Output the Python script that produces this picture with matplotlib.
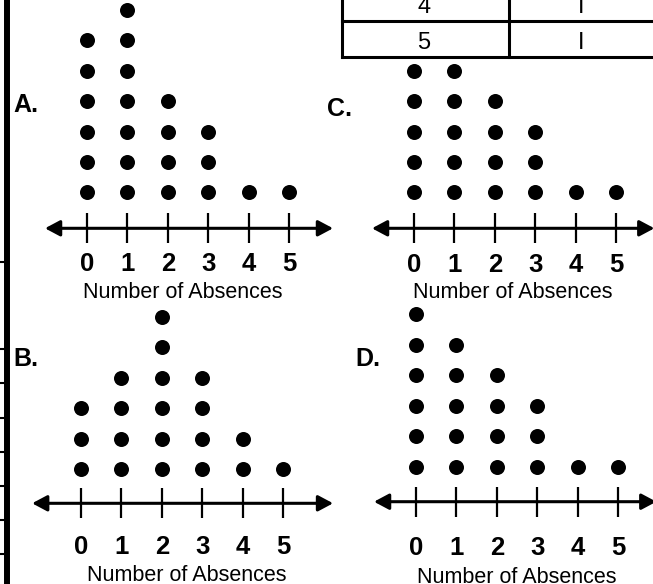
import matplotlib
matplotlib.use('Agg')
import matplotlib.pyplot as plt

plt.rcParams['font.family'] = ['Liberation Sans', 'DejaVu Sans']

W, H, DPI = 653, 584, 100

# ---- data ----
absences = [0, 1, 2, 3, 4, 5]
tick_labels = ['0', '1', '2', '3', '4', '5']
counts_A = [6, 7, 4, 3, 1, 1]
counts_B = [3, 4, 6, 4, 2, 1]
counts_C = [5, 5, 4, 3, 1, 1]
counts_D = [6, 5, 4, 3, 1, 1]
xlabel_text = 'Number of Absences'
table_keys = ['4', '5']
table_tallies = ['I', 'I']
ruler_ticks = [262, 349, 383, 418, 452, 486, 520, 554]

fig = plt.figure(figsize=(W / DPI, H / DPI), dpi=DPI)
fig.patch.set_facecolor('white')


def px_axes(left, top, width, height):
    ax = fig.add_axes([left / W, 1 - (top + height) / H, width / W, height / H])
    ax.patch.set_visible(False)
    return ax


def panel(counts, letter, x0, dx, yb, dy, axis_px, arrow_lo, arrow_hi,
          lab_off, xlab_off, xlab_x, letter_px):
    xmin, xmax, ymin, ymax = -2, 7, -2, 8
    ax = px_axes(x0 + xmin * dx, yb - (ymax - 1) * dy,
                 (xmax - xmin) * dx, (ymax - ymin) * dy)
    ax.set_xlim(xmin, xmax)
    ax.set_ylim(ymin, ymax)
    ax.axis('off')
    axis_y = 1 - (axis_px - yb) / dy
    xs, ys = [], []
    for v, c in zip(absences, counts):
        for k in range(1, c + 1):
            xs.append(v)
            ys.append(k)
    ax.plot(xs, ys, 'o', color='black', ms=10.8, mew=0, clip_on=False)
    ax.annotate('', xy=(arrow_hi, axis_y), xytext=(arrow_lo, axis_y),
                arrowprops=dict(arrowstyle='<|-|>,head_length=0.45,head_width=0.24',
                                lw=2.2, color='black', mutation_scale=20,
                                shrinkA=0, shrinkB=0),
                annotation_clip=False)
    ax.plot(absences, [axis_y] * len(absences), ls='none', marker='|',
            ms=21.6, mew=1.6, color='black', clip_on=False)
    for v, t in zip(absences, tick_labels):
        ax.annotate(t, (v, axis_y), xytext=(0, -lab_off * 0.72),
                    textcoords='offset points', ha='center',
                    va='center_baseline', fontsize=18.5, fontweight='bold',
                    annotation_clip=False)
    ax.annotate(xlabel_text, (xlab_x, axis_y), xytext=(0, -xlab_off * 0.72),
                textcoords='offset points', ha='center', va='center_baseline',
                fontsize=15.5, annotation_clip=False)
    fig.text(letter_px[0] / W, 1 - letter_px[1] / H, letter, ha='left',
             va='center_baseline', fontsize=18, fontweight='bold')


panel(counts_A, 'A.', 87, 40.4, 192.3, 30.4, 228.3, -1.04, 6.09, 33, 62, 2.38, (13, 102))
panel(counts_C, 'C.', 414, 40.4, 192.3, 30.4, 228.3, -1.04, 5.95, 34, 62, 2.45, (327, 107))
panel(counts_B, 'B.', 81, 40.4, 469.0, 30.5, 503.3, -1.21, 6.24, 41, 70, 2.62, (13, 357))
panel(counts_D, 'D.', 416, 40.4, 466.7, 30.5, 501.7, -1.04, 5.95, 44, 73, 2.50, (355, 357))

# ---- table fragment (top right) ----
axt = px_axes(342, -15, 334, 72)
axt.set_xlim(0, 2)
axt.set_ylim(0, 2)
axt.axis('off')
for xv in (0, 1):
    axt.axvline(xv, color='black', lw=2.2, clip_on=False)
for yv in (0, 1, 2):
    axt.axhline(yv, color='black', lw=2.2, clip_on=False)
for i, (k, t) in enumerate(zip(table_keys, table_tallies)):
    yrow = 1.5 - i - 0.05
    axt.text(0.49, yrow, k, ha='center', va='center_baseline', fontsize=17)
    axt.text(1.43, yrow, t, ha='center', va='center_baseline', fontsize=17)

# ---- ruler fragment (left edge) ----
axr = px_axes(6.5, 0, 20, H)
axr.set_ylim(H, 0)
axr.set_xticks([])
axr.set_yticks(ruler_ticks)
for s in ('top', 'right', 'bottom'):
    axr.spines[s].set_visible(False)
axr.spines['left'].set_linewidth(4.3)
axr.tick_params(axis='y', direction='out', length=4.7, width=1.5,
                labelleft=False, color='black')

fig.savefig('out.png', dpi=DPI, facecolor='white')
